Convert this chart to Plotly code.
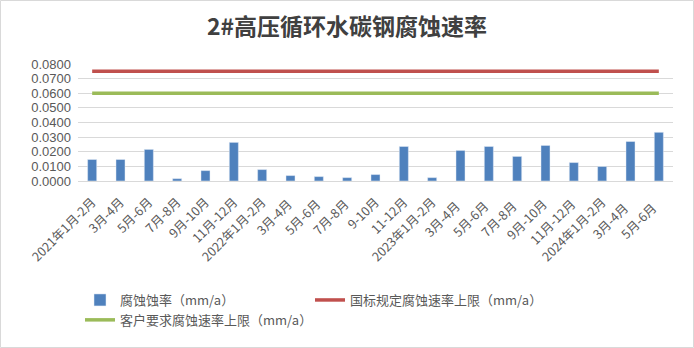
import plotly.graph_objects as go

categories = ["2021年1月-2月", "3月-4月", "5月-6月", "7月-8月", "9月-10月", "11月-12月",
              "2022年1月-2月", "3月-4月 ", "5月-6月 ", "7月-8月 ", "9-10月", "11-12月",
              "2023年1月-2月", "3月-4月  ", "5月-6月  ", "7月-8月  ", "9月-10月 ", "11月-12月 ",
              "2024年1月-2月", "3月-4月   ", "5月-6月   "]
corrosion = [0.0147, 0.0147, 0.0216, 0.0016, 0.0071, 0.0264, 0.0078, 0.0037, 0.0030, 0.0023, 0.0044,
             0.0236, 0.0023, 0.0209, 0.0236, 0.0168, 0.0243, 0.0126, 0.0099, 0.0270, 0.0333]
national_limit = [0.075] * len(categories)
customer_limit = [0.060] * len(categories)

names = ["腐蚀蚀率（mm/a）", "国标规定腐蚀速率上限（mm/a）", "客户要求腐蚀速率上限（mm/a）"]

font_cjk = "Noto Sans CJK SC, Noto Sans, sans-serif"
font_num = "Liberation Sans, Arial, sans-serif"

fig = go.Figure()
fig.add_trace(go.Bar(x=categories, y=corrosion, name=names[0], marker_color="#4F81BD"))
fig.add_trace(go.Scatter(x=categories, y=national_limit, name=names[1], mode="lines",
                         line=dict(color="#C0504D", width=3.5)))
fig.add_trace(go.Scatter(x=categories, y=customer_limit, name=names[2], mode="lines",
                         line=dict(color="#9BBB59", width=3.5)))

L, R, T, B = 78, 21, 64, 167
W, H = 694, 348
pw, ph = W - L - R, H - T - B

fig.update_layout(
    width=W, height=H,
    margin=dict(l=L, r=R, t=T, b=B),
    paper_bgcolor="white", plot_bgcolor="white",
    font=dict(family=font_cjk, color="#595959", size=12),
    bargap=0.68,
    title=dict(text="<b>2#高压循环水碳钢腐蚀速率</b>", x=0.5, xanchor="center",
               y=1 - 27 / H, yanchor="middle", yref="container",
               font=dict(size=23, color="#404040", family=font_cjk)),
    xaxis=dict(type="category", tickangle=-45, showgrid=False, showline=True,
               linecolor="#d9d9d9", linewidth=1, ticks="", ticklabelstandoff=8,
               tickfont=dict(size=12.5, color="#595959")),
    yaxis=dict(range=[0, 0.08], dtick=0.01, tickformat=".4f", showgrid=True,
               gridcolor="#d9d9d9", gridwidth=1, zeroline=False, showline=False,
               ticks="", tickfont=dict(size=13, color="#595959", family=font_num),
               ticklabelstandoff=6),
    legend=dict(orientation="h", xref="container", yref="container",
                x=80 / W, xanchor="left", y=1 - 285 / H, yanchor="top",
                entrywidth=185, entrywidthmode="pixels",
                font=dict(size=13, color="#595959", family=font_cjk),
                tracegroupgap=0, itemwidth=30),
    showlegend=True,
)

fig.add_shape(type="rect", xref="paper", yref="paper",
              x0=-(L - 0.5) / pw, x1=(W - L - 0.5) / pw,
              y0=-(B - 0.5) / ph, y1=1 + (T - 0.5) / ph,
              line=dict(color="#d9d9d9", width=1), fillcolor="rgba(0,0,0,0)", layer="below")

fig.write_html("out.html")
